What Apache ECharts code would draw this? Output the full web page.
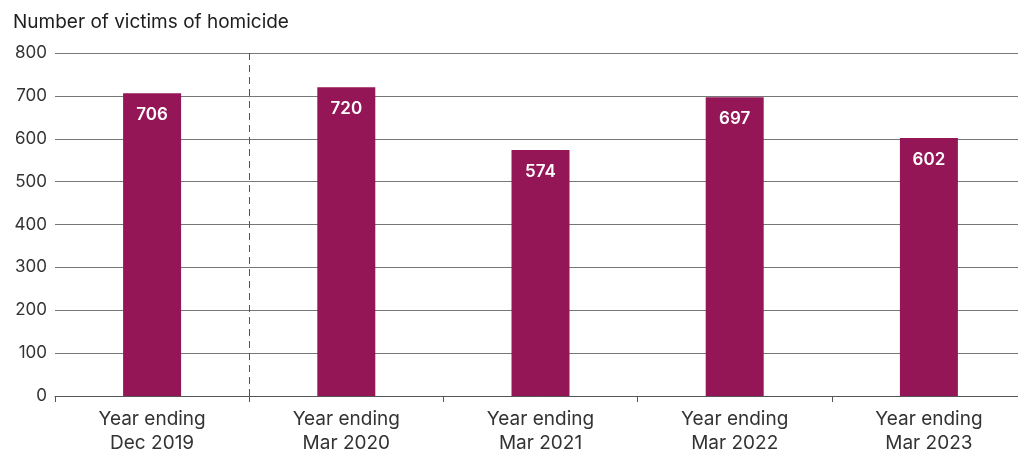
<!DOCTYPE html>
<html>
<head>
<meta charset="utf-8">
<script src="https://cdn.jsdelivr.net/npm/echarts@6/dist/echarts.min.js"></script>
<style>
  html, body { margin: 0; padding: 0; background: #fff; }
  #chart { width: 1018px; height: 452px; }
</style>
</head>
<body>
<div id="chart"></div>
<script>
// Homicide victims by reporting year
const categories = [
  'Year ending\nDec 2019',
  'Year ending\nMar 2020',
  'Year ending\nMar 2021',
  'Year ending\nMar 2022',
  'Year ending\nMar 2023'
];
const victims = [706, 720, 574, 697, 602];
const yTicks = { min: 0, max: 800, interval: 100 };
const axisTitle = 'Number of victims of homicide';
// the calendar-year figure is separated from the financial years by a divider
const dividerAfter = [1];

const FONT = 'Inter, "Liberation Sans", Arial, sans-serif';
const chart = echarts.init(document.getElementById('chart'), null, { renderer: 'canvas' });

chart.setOption({
  animation: false,
  textStyle: { fontFamily: FONT },
  title: {
    text: axisTitle,
    left: 8,
    top: 8,
    textStyle: { fontSize: 19, fontWeight: 'normal', color: '#1e1e1e', fontFamily: FONT }
  },
  grid: [{
    left: 55, top: 53, right: -8, bottom: 56,
    containLabel: false,
    outerBoundsMode: 'none'
  }],
  xAxis: [{
    type: 'category',
    data: categories,
    boundaryGap: true,
    axisLine: { show: true, lineStyle: { color: '#555', width: 1 } },
    axisTick: { show: true, length: 6, lineStyle: { color: '#555' } },
    axisLabel: {
      color: '#333',
      fontSize: 19,
      lineHeight: 24,
      margin: 11,
      fontFamily: FONT
    },
    splitLine: { show: false }
  }, {
    // hidden linear helper axis spanning the same categories, used to place the divider
    type: 'value',
    min: 0,
    max: categories.length,
    show: false
  }],
  yAxis: {
    type: 'value',
    min: yTicks.min,
    max: yTicks.max,
    interval: yTicks.interval,
    axisLine: { show: false },
    axisTick: { show: false },
    axisLabel: { color: '#333', fontSize: 17, margin: 8, fontFamily: FONT },
    splitLine: { lineStyle: { color: '#777', width: 1 } }
  },
  series: [{
    type: 'bar',
    data: victims,
    barWidth: 58,
    itemStyle: { color: '#951656' },
    label: {
      show: true,
      position: 'insideTop',
      distance: 13,
      color: '#fff',
      fontSize: 17,
      fontWeight: 600,
      fontFamily: FONT
    },
    z: 3
  }, {
    type: 'scatter',
    xAxisIndex: 1,
    data: [],
    silent: true,
    markLine: {
      silent: true,
      symbol: 'none',
      label: { show: false },
      lineStyle: { color: '#555', type: [7, 5], width: 1 },
      data: dividerAfter.map(function (v) { return { xAxis: v }; })
    }
  }]
});
</script>
</body>
</html>
